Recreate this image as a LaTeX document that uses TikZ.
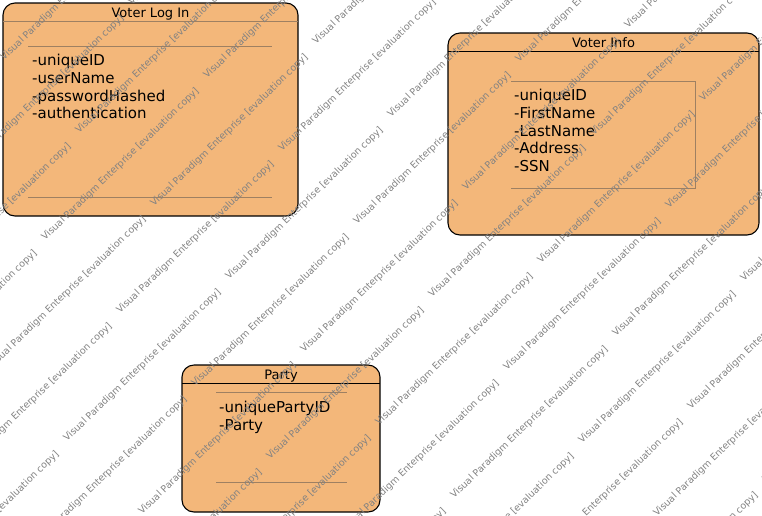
\documentclass[tikz,border=0pt]{standalone}
\usepackage{fontspec}
\setmainfont{DejaVu Sans}
\usetikzlibrary{positioning}

\definecolor{classfill}{RGB}{243,183,122}
\definecolor{innerline}{RGB}{158,128,98}
\definecolor{markgray}{RGB}{130,130,130}

\begin{document}
\begin{tikzpicture}[x=1pt,y=-1pt,
    classbox/.style={draw,fill=classfill,rounded corners=12pt,line width=1.1pt,inner sep=0pt,outer sep=0pt},
    classname/.style={font=\fontsize{13}{15}\selectfont,inner sep=0pt,anchor=base},
    attrs/.style={font=\fontsize{15}{17.7}\selectfont,align=left,inner sep=0pt,anchor=north west},
    inner/.style={draw=innerline,line width=0.6pt},
    vpmark/.style={font=\fontsize{9.5}{11}\selectfont,text=markgray,rotate=44,anchor=base west,inner sep=0pt}]
    \useasboundingbox (0,0) rectangle (762,515);

    % voter log in
    \node [classbox,minimum width=295pt,minimum height=213pt] (login) at (150.5,109.5) {};
    \node [classname] (loginname) at (150.5,17.3) {Voter Log In};
    \draw [inner] ([yshift=-18.7pt]login.north west) -- ([yshift=-18.7pt]login.north east);
    \draw [inner] (28,46) -- (272,46);
    \draw [inner] (28,197) -- (272,197);
    \node [attrs] (loginattrs) at (32,54) {-uniqueID\\-userName\\-passwordHashed\\-authentication};

    % voter info
    \node [classbox,minimum width=311pt,minimum height=202pt] (info) at (603.5,134) {};
    \node [classname] (infoname) at (603.5,47.3) {Voter Info};
    \draw [line width=1pt] ([yshift=-18pt]info.north west) -- ([yshift=-18pt]info.north east);
    \draw [inner] (511,81) -- (695,81) -- (695,188) -- (511,188);
    \node [attrs] (infoattrs) at (514,89) {-uniqueID\\-FirstName\\-LastName\\-Address\\-SSN};

    % party
    \node [classbox,minimum width=198pt,minimum height=147pt] (party) at (281,438.5) {};
    \node [classname] (partyname) at (281,379) {Party};
    \draw [line width=1pt] ([yshift=-18pt]party.north west) -- ([yshift=-18pt]party.north east);
    \draw [inner] (216,392) -- (347,392);
    \draw [inner] (216,482) -- (347,482);
    \node [attrs] (partyattrs) at (219,400.7) {-uniquePartyID\\-Party};

    % watermark
    \begin{scope}
        \clip (0,0) rectangle (762,515);
        \foreach \i in {-7,...,7}
        \foreach \j in {-5,...,4}
        {
            \node [vpmark] at ({432+75*\i+237*\j},{298+73*\i-89*\j}) {Visual Paradigm Enterprise [evaluation copy]};
            \node [vpmark] at ({541+75*\i+237*\j},{264+73*\i-89*\j}) {Visual Paradigm Enterprise [evaluation copy]};
        }
    \end{scope}
\end{tikzpicture}
\end{document}
